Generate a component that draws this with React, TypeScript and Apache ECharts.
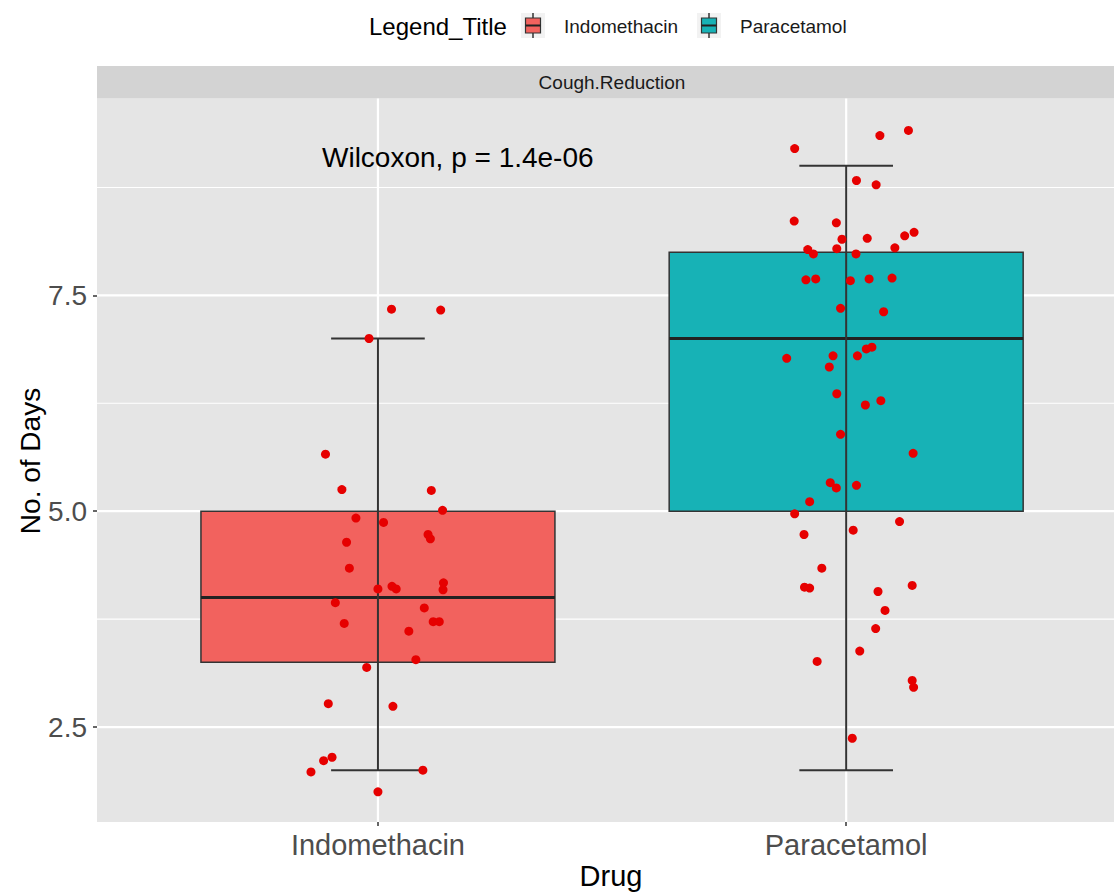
import React, { useEffect, useRef } from "react";
import * as echarts from "echarts";

const categories = ["Indomethacin", "Paracetamol"];
const boxColors = ["#F2625E", "#17B2B6"];
// [lower whisker, Q1, median, Q3, upper whisker]
const indomethacinStats = [2, 3.25, 4, 5, 7];
const paracetamolStats = [2, 5, 7, 8, 9];
// jittered points: [x position, days]
const indomethacinPoints = [
  [1.029, 7.34], [1.134, 7.33], [0.981, 7.0], [0.888, 5.66], [0.923, 5.25], [1.114, 5.24],
  [1.138, 5.01], [0.953, 4.92], [1.012, 4.87], [1.107, 4.73], [1.112, 4.68], [0.933, 4.64],
  [0.939, 4.34], [1.14, 4.17], [1.139, 4.09], [1.0, 4.1], [1.03, 4.13], [1.039, 4.1],
  [0.909, 3.94], [1.099, 3.88], [0.928, 3.7], [1.118, 3.72], [1.131, 3.72], [1.066, 3.61],
  [1.081, 3.28], [0.976, 3.19], [0.894, 2.77], [1.032, 2.74], [0.902, 2.15], [0.884, 2.11],
  [0.857, 1.98], [1.096, 2.0], [1.0, 1.75],
];
const paracetamolPoints = [
  [2.133, 9.41], [2.072, 9.35], [1.89, 9.2], [2.022, 8.83], [2.064, 8.78], [1.889, 8.36],
  [1.979, 8.34], [2.145, 8.23], [2.125, 8.19], [1.991, 8.15], [2.045, 8.16], [1.918, 8.03],
  [1.93, 7.98], [1.98, 8.04], [2.104, 8.05], [2.021, 7.98], [1.914, 7.68], [1.935, 7.69],
  [2.009, 7.67], [2.049, 7.69], [2.098, 7.7], [1.988, 7.35], [2.08, 7.31],
  [2.055, 6.9], [2.043, 6.88], [1.873, 6.77], [1.972, 6.8], [2.024, 6.8], [1.964, 6.67],
  [1.98, 6.36], [2.041, 6.23], [2.074, 6.28], [1.988, 5.89], [2.143, 5.67], [1.966, 5.33],
  [1.979, 5.27], [2.022, 5.3], [1.922, 5.11], [1.89, 4.97], [2.114, 4.88], [2.015, 4.78],
  [1.91, 4.73],
  [1.948, 4.34], [1.911, 4.12], [1.922, 4.11], [2.141, 4.14], [2.068, 4.07], [2.083, 3.85],
  [2.063, 3.64], [2.029, 3.38], [1.938, 3.26], [2.141, 3.04], [2.144, 2.96], [2.013, 2.37],
];
const yMajorTicks = [2.5, 5.0, 7.5];
const yMinorTicks = [3.75, 6.25, 8.75];
const xTicks = [1, 2];
const pValueLabel = "Wilcoxon, p = 1.4e-06";

const FONT = "'Liberation Sans', Arial, Helvetica, sans-serif";

export default function App() {
  const ref = useRef<HTMLDivElement>(null);
  useEffect(() => {
    if (!ref.current) return;
    const chart = echarts.init(ref.current, undefined, { renderer: "svg" });
    const statsAll = [indomethacinStats, paracetamolStats];
    const boxData = categories.map((_, i) => [i + 1, ...statsAll[i]]);
    const gridLineData = [
      ...yMajorTicks.map((v) => ["h", v, 2.2]),
      ...yMinorTicks.map((v) => ["h", v, 1.1]),
      ...xTicks.map((v) => ["v", v, 2.2]),
    ];

    const legendKey = (cx: number, color: string) => ({
      type: "group",
      children: [
        { type: "rect", shape: { x: cx - 12, y: 13, width: 24, height: 25 }, style: { fill: "#F2F2F2" } },
        { type: "line", shape: { x1: cx, y1: 13, x2: cx, y2: 38 }, style: { stroke: "#333", lineWidth: 1.5 } },
        { type: "rect", shape: { x: cx - 7.5, y: 18, width: 15, height: 15 }, style: { fill: color, stroke: "#333", lineWidth: 1.2 } },
        { type: "line", shape: { x1: cx - 7.5, y1: 25.5, x2: cx + 7.5, y2: 25.5 }, style: { stroke: "#222", lineWidth: 2 } },
      ],
    });

    chart.setOption({
      animation: false,
      textStyle: { fontFamily: FONT },
      grid: {
        left: 97,
        right: 0,
        top: 98.5,
        bottom: 73,
        show: true,
        backgroundColor: "#E5E5E5",
        borderWidth: 0,
      },
      xAxis: {
        type: "value",
        min: 0.4,
        max: 2.572,
        axisLine: { show: false },
        splitLine: { show: false },
        axisTick: { show: true, customValues: xTicks, length: 4, lineStyle: { color: "#333", width: 1.5 } },
        axisLabel: {
          customValues: xTicks,
          formatter: (v: number) => categories[Math.round(v) - 1] ?? "",
          fontSize: 29,
          color: "#4D4D4D",
          margin: 8,
          fontFamily: FONT,
        },
      },
      yAxis: {
        type: "value",
        min: 1.4,
        max: 9.78,
        axisLine: { show: false },
        splitLine: { show: false },
        axisTick: { show: true, customValues: yMajorTicks, length: 4, lineStyle: { color: "#333", width: 1.5 } },
        axisLabel: {
          customValues: yMajorTicks,
          formatter: (v: number) => v.toFixed(1),
          fontSize: 28,
          color: "#4D4D4D",
          margin: 10,
          fontFamily: FONT,
        },
      },
      graphic: [
        { type: "rect", shape: { x: 97, y: 66, width: 1030, height: 32.5 }, style: { fill: "#D3D3D3" } },
        {
          type: "text",
          x: 612,
          y: 82.5,
          style: { text: "Cough.Reduction", fontSize: 19, fill: "#1A1A1A", align: "center", verticalAlign: "middle", fontFamily: FONT },
        },
        {
          type: "text",
          x: 369,
          y: 26,
          style: { text: "Legend_Title", fontSize: 24, fill: "#000", align: "left", verticalAlign: "middle", fontFamily: FONT },
        },
        legendKey(533, boxColors[0]),
        {
          type: "text",
          x: 564,
          y: 26,
          style: { text: categories[0], fontSize: 19, fill: "#1A1A1A", align: "left", verticalAlign: "middle", fontFamily: FONT },
        },
        legendKey(709, boxColors[1]),
        {
          type: "text",
          x: 740,
          y: 26,
          style: { text: categories[1], fontSize: 19, fill: "#1A1A1A", align: "left", verticalAlign: "middle", fontFamily: FONT },
        },
        {
          type: "text",
          x: 322,
          y: 157,
          z: 100,
          style: { text: pValueLabel, fontSize: 28, fill: "#000", align: "left", verticalAlign: "middle", fontFamily: FONT },
        },
        {
          type: "text",
          x: 611,
          y: 876,
          style: { text: "Drug", fontSize: 29, fill: "#000", align: "center", verticalAlign: "middle", fontFamily: FONT },
        },
        {
          type: "text",
          x: 30,
          y: 461,
          rotation: Math.PI / 2,
          style: { text: "No. of Days", fontSize: 28, fill: "#000", align: "center", verticalAlign: "middle", fontFamily: FONT },
        },
      ],
      series: [
        {
          type: "custom",
          z: 1,
          silent: true,
          data: gridLineData,
          renderItem: (params: any, api: any) => {
            const cs = params.coordSys;
            const kind = gridLineData[params.dataIndex][0];
            const v = api.value(1);
            const w = api.value(2);
            if (kind === "h") {
              const y = api.coord([1, v])[1];
              return {
                type: "line",
                shape: { x1: cs.x, y1: y, x2: cs.x + cs.width, y2: y },
                style: { stroke: "#FFFFFF", lineWidth: w },
              };
            }
            const x = api.coord([v, 5])[0];
            return {
              type: "line",
              shape: { x1: x, y1: cs.y, x2: x, y2: cs.y + cs.height },
              style: { stroke: "#FFFFFF", lineWidth: w },
            };
          },
        },
        {
          type: "custom",
          z: 2,
          silent: true,
          data: boxData,
          renderItem: (params: any, api: any) => {
            const x = api.value(0);
            const lo = api.value(1);
            const q1 = api.value(2);
            const med = api.value(3);
            const q3 = api.value(4);
            const hi = api.value(5);
            const half = 0.378;
            const cap = 0.1;
            const [xl, yq3] = api.coord([x - half, q3]);
            const [xr, yq1] = api.coord([x + half, q1]);
            const [xc, ymed] = api.coord([x, med]);
            const ylo = api.coord([x, lo])[1];
            const yhi = api.coord([x, hi])[1];
            const cl = api.coord([x - cap, lo])[0];
            const cr = api.coord([x + cap, lo])[0];
            return {
              type: "group",
              children: [
                {
                  type: "rect",
                  shape: { x: xl, y: yq3, width: xr - xl, height: yq1 - yq3 },
                  style: { fill: boxColors[params.dataIndex], stroke: "#333333", lineWidth: 1.5 },
                },
                {
                  type: "line",
                  shape: { x1: xl, y1: ymed, x2: xr, y2: ymed },
                  style: { stroke: "#222222", lineWidth: 3 },
                },
                {
                  type: "line",
                  shape: { x1: xc, y1: ylo, x2: xc, y2: yhi },
                  style: { stroke: "#333333", lineWidth: 2 },
                },
                {
                  type: "line",
                  shape: { x1: cl, y1: ylo, x2: cr, y2: ylo },
                  style: { stroke: "#333333", lineWidth: 2 },
                },
                {
                  type: "line",
                  shape: { x1: cl, y1: yhi, x2: cr, y2: yhi },
                  style: { stroke: "#333333", lineWidth: 2 },
                },
              ],
            };
          },
        },
        {
          type: "scatter",
          z: 3,
          name: categories[0],
          data: indomethacinPoints,
          symbolSize: 9,
          itemStyle: { color: "#E60000", opacity: 1 },
        },
        {
          type: "scatter",
          z: 3,
          name: categories[1],
          data: paracetamolPoints,
          symbolSize: 9,
          itemStyle: { color: "#E60000", opacity: 1 },
        },
      ],
    });
    return () => chart.dispose();
  }, []);
  return (
    <div
      ref={ref}
      style={{ position: "absolute", left: 0, top: 0, width: 1114, height: 895 }}
    />
  );
}
